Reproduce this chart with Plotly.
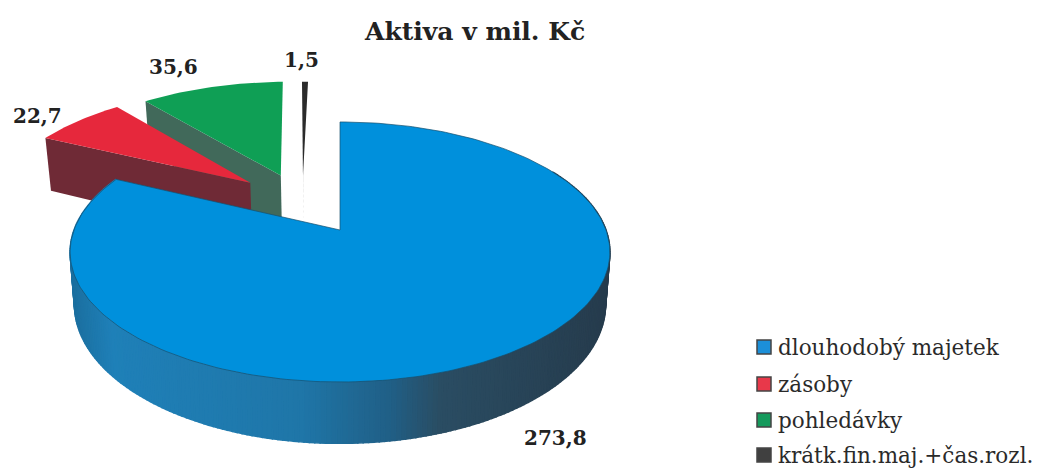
import math
import plotly.graph_objects as go

title = "Aktiva v mil. Kč"
categories = ["dlouhodobý majetek", "zásoby", "pohledávky", "krátk.fin.maj.+čas.rozl."]
values = [273.8, 22.7, 35.6, 1.5]
top_colors = ["#0090dc", "#e6283c", "#0f9f55", "#2b2b2b"]
side_colors = ["#1f78ad", "#6f2a36", "#41695a", "#222222"]
swatch_colors = ["#1c8fd8", "#e8384a", "#159a5c", "#404040"]
pull_x = [0.0, -0.36, -0.24, -0.15]
pull_y = [0.0, 0.40, 0.465, 0.465]

X0, Y0, A, B, K, DEPTH = 340, 230, 266, 126.3, 0.169, 51
PULLED_Z = 1.18
FONT = "DejaVu Serif"


def project(X, Y, z=0.0):
    s = 1 / (1 + K * Y)
    f = 1 - 0.016 * z
    return X0 + A * X * s * f, Y0 - B * Y * s + DEPTH * s * z


def rim(a0, a1, px, py, z=0.0, n=120):
    pts = []
    for i in range(n + 1):
        t = math.radians(a0 + (a1 - a0) * i / n)
        pts.append(project(px + math.sin(t), py + math.cos(t), z))
    return pts


def poly(fig, pts, color, width=0, line=None):
    fig.add_trace(go.Scatter(
        x=[p[0] for p in pts] + [pts[0][0]],
        y=[p[1] for p in pts] + [pts[0][1]],
        mode="lines", fill="toself", fillcolor=color,
        line=dict(width=width, color=line or color),
        hoverinfo="skip", showlegend=False))


def mix(c0, c1, t):
    a = [int(c0[i:i + 2], 16) for i in (1, 3, 5)]
    b = [int(c1[i:i + 2], 16) for i in (1, 3, 5)]
    return "#" + "".join(f"{round(u + (v - u) * t):02x}" for u, v in zip(a, b))


GRAD = [(70, "#1b6f9f"), (110, "#1f80b8"), (300, "#1f76a8"), (390, "#205f86"),
        (440, "#2a4d63"), (612, "#263b4c")]


def grad(x):
    for (x0, c0), (x1, c1) in zip(GRAD, GRAD[1:]):
        if x <= x1:
            return mix(c0, c1, max(0, (x - x0) / (x1 - x0)))
    return GRAD[-1][1]


total = sum(values)
spans = []
acc = 0.0
for v in values:
    spans.append((acc / total * 360, (acc + v) / total * 360))
    acc += v

fig = go.Figure()

# pulled wedges, furthest first: sliver, receivables, stocks
for i in (3, 2, 1):
    a0, a1 = spans[i]
    px, py = pull_x[i], pull_y[i]
    apex, apex_low = project(px, py), project(px, py, PULLED_Z)
    outer = rim(a0, a0, px, py, n=1)[0]
    outer_low = rim(a0, a0, px, py, PULLED_Z, n=1)[0]
    poly(fig, [apex, outer, outer_low, apex_low], side_colors[i])
    poly(fig, [apex] + rim(a0, a1, px, py, n=30), top_colors[i])

# main wedge: gradient rim, then the top face
a0, a1 = spans[0]
steps = 240
for j in range(steps):
    t0 = 60 + (a1 - 60) * j / steps
    t1 = 60 + (a1 - 60) * (j + 1) / steps
    top = rim(t0, t1, 0, 0, 0, n=2)
    low = rim(t0, t1, 0, 0, 1, n=2)
    col = grad((top[0][0] + top[-1][0]) / 2)
    poly(fig, top + low[::-1], col, width=1.5)
poly(fig, [project(0, 0)] + rim(a0, a1, 0, 0, n=240), top_colors[0], width=0.7, line="#17506f")

annotations = [dict(x=474, y=31, xref="x", yref="y", text=title, showarrow=False,
                    font=dict(family=FONT, size=25, color="#222222", weight="bold"))]
label_x = [555, 37, 173, 301]
label_y = [438, 116, 67, 60]
for v, lx, ly in zip(values, label_x, label_y):
    annotations.append(dict(x=lx, y=ly, xref="x", yref="y", showarrow=False,
                            text=f"{v:.1f}".replace(".", ","),
                            font=dict(family=FONT, size=20, color="#222222", weight="bold")))

shapes = []
rows = [347, 384, 420, 455]
for cat, col, ry in zip(categories, swatch_colors, rows):
    shapes.append(dict(type="rect", xref="x", yref="y", x0=757, x1=771, y0=ry - 7, y1=ry + 7,
                       fillcolor=col, line=dict(color="#444444", width=1.5), layer="above"))
    annotations.append(dict(x=776, y=ry, xref="x", yref="y", xanchor="left", showarrow=False,
                            text=cat, font=dict(family=FONT, size=21.5, color="#2a2a2a")))

fig.update_layout(
    width=1037, height=470, margin=dict(l=0, r=0, t=0, b=0),
    paper_bgcolor="white", plot_bgcolor="white", showlegend=False,
    xaxis=dict(range=[0, 1037], visible=False, fixedrange=True),
    yaxis=dict(range=[470, 0], visible=False, fixedrange=True),
    annotations=annotations, shapes=shapes)

fig.write_html("out.html", config={"displayModeBar": False},
               post_script="document.body.style.margin='0';document.body.style.overflow='hidden';")
